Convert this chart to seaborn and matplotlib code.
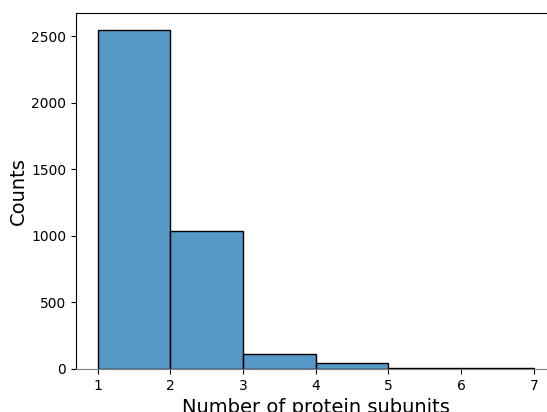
import matplotlib
matplotlib.use("Agg")
import matplotlib.pyplot as plt
import seaborn as sns
import pandas as pd

# Number of subunits per protein complex (bin centres) and how many complexes fall in each bin
subunits = [1.5, 2.5, 3.5, 4.5, 5.5, 6.5]
counts = [2545, 1035, 113, 43, 5, 4]
bin_edges = [1, 2, 3, 4, 5, 6, 7]

df = pd.DataFrame({"subunits": subunits, "counts": counts})

fig = plt.figure(figsize=(5.47, 4.12), dpi=100)
ax = fig.add_axes([76 / 547, 1 - 369 / 412, 479.6 / 547, 356 / 412])

sns.histplot(data=df, x="subunits", weights="counts", bins=bin_edges,
             edgecolor="black", linewidth=1, ax=ax, zorder=3)

ax.set_xlim(0.7, 7.3)
ax.set_ylim(0, 2673)
ax.set_xlabel("Number of protein subunits", fontsize=14)
ax.set_ylabel("Counts", fontsize=14, labelpad=2)
ax.spines["bottom"].set_color("#808080")

fig.savefig("out.png", dpi=100)
